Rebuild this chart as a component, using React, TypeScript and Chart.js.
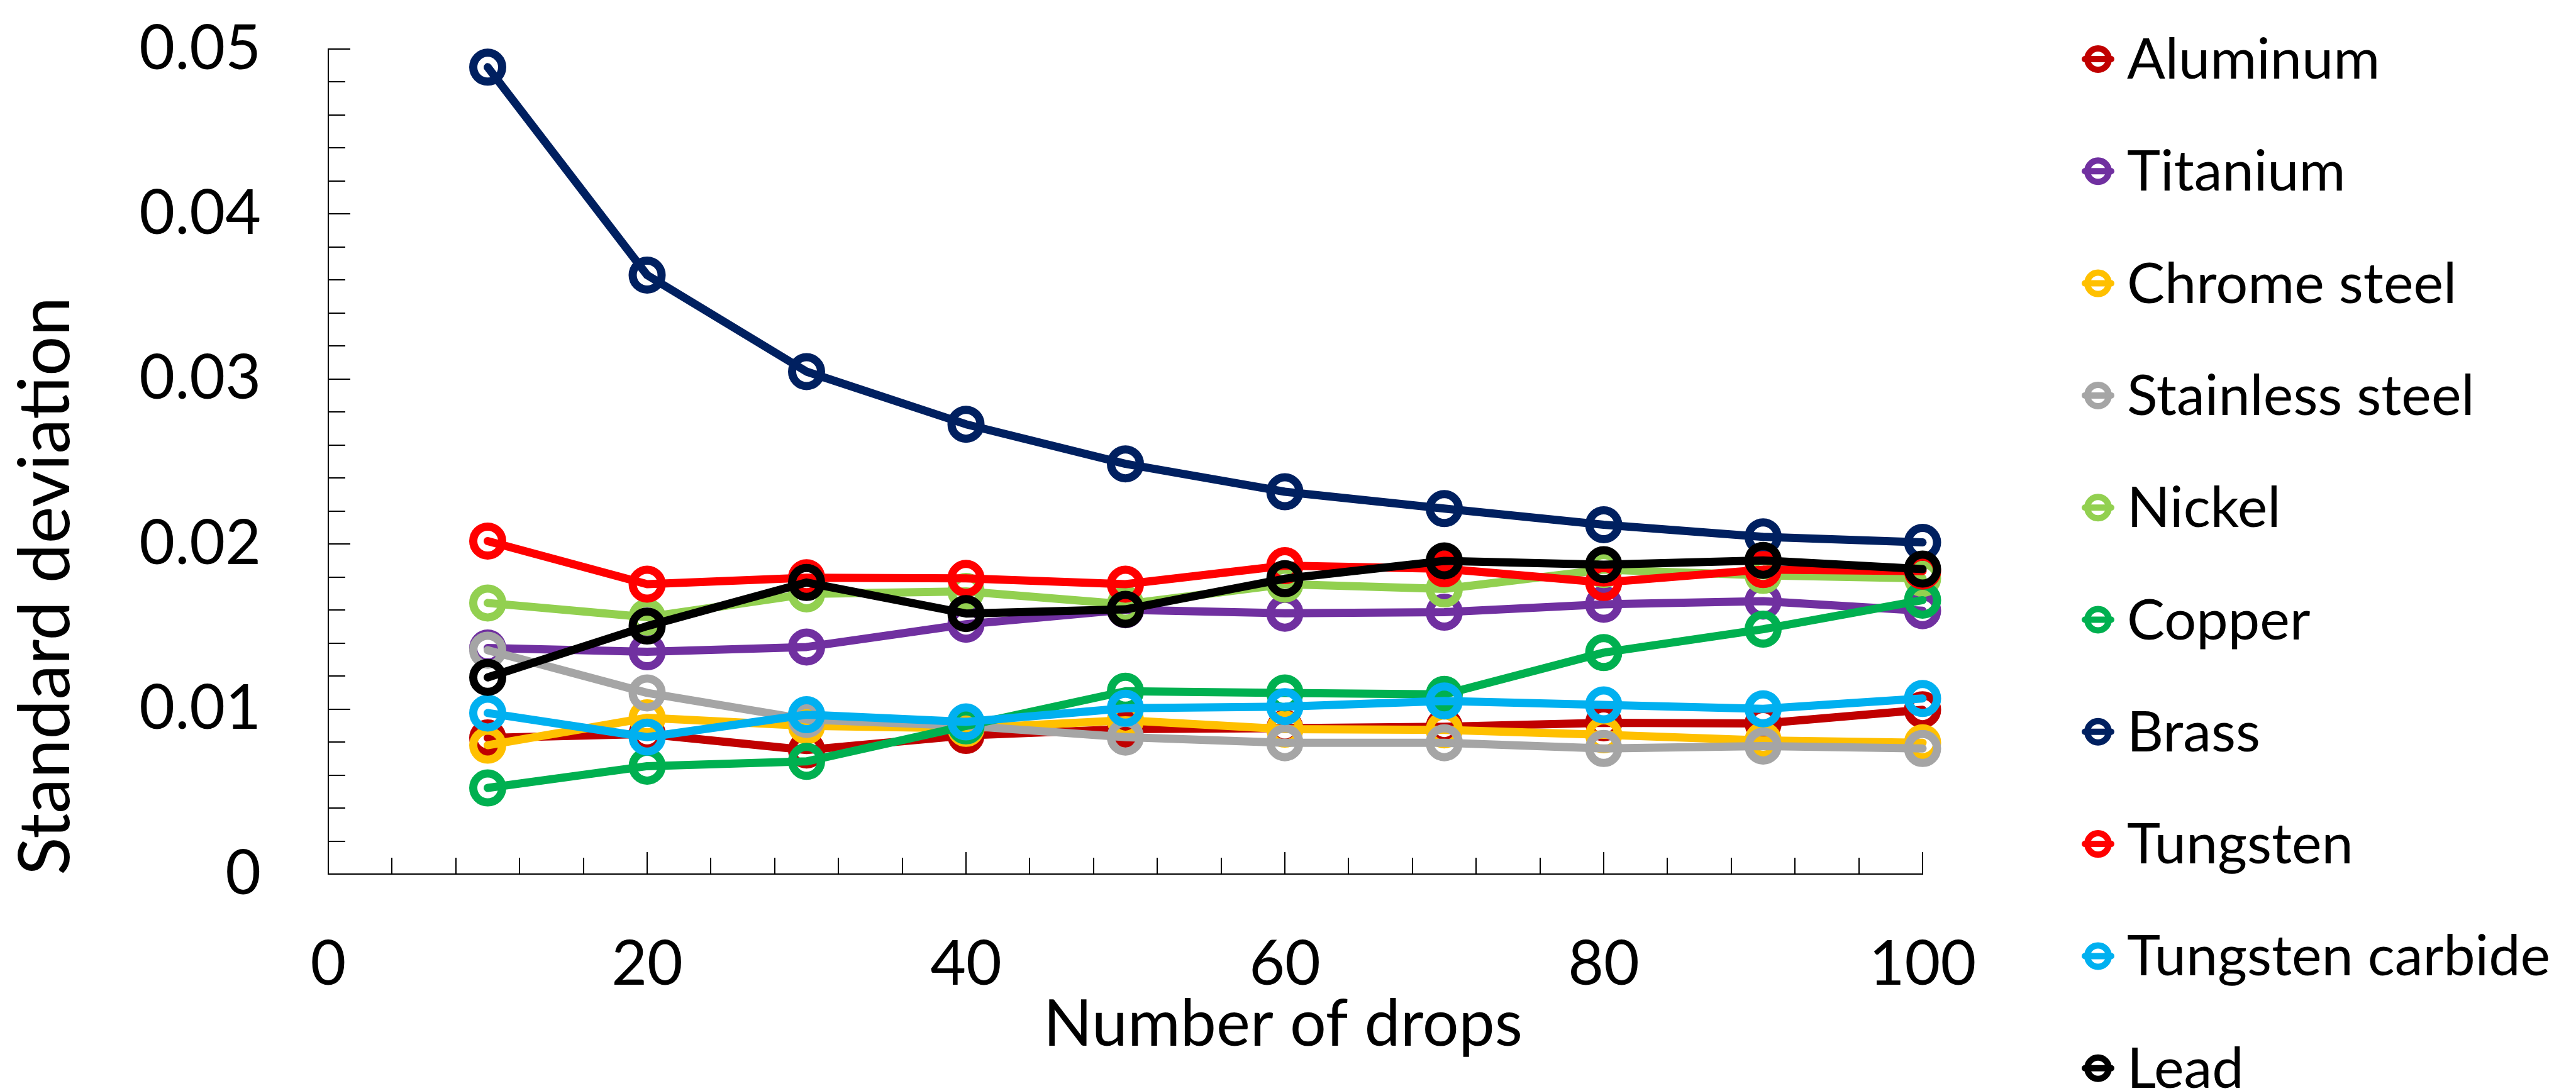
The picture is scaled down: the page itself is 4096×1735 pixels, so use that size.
import React, { useEffect, useRef } from 'react';
import { Chart, registerables } from 'chart.js';

Chart.register(...registerables);

// ---------- data ----------
const drops = [10, 20, 30, 40, 50, 60, 70, 80, 90, 100];

const seriesNames = [
  'Aluminum',
  'Titanium',
  'Chrome steel',
  'Stainless steel',
  'Nickel',
  'Copper',
  'Brass',
  'Tungsten',
  'Tungsten carbide',
  'Lead',
];

const seriesColors = [
  '#C00000',
  '#7030A0',
  '#FFC000',
  '#A5A5A5',
  '#92D050',
  '#00B050',
  '#002060',
  '#FF0000',
  '#00B0F0',
  '#000000',
];

const aluminum = [0.00825, 0.00849, 0.00752, 0.0084, 0.00878, 0.00884, 0.00893, 0.00917, 0.00913, 0.00996];
const titanium = [0.0137, 0.01347, 0.01376, 0.01514, 0.01602, 0.01581, 0.01587, 0.01635, 0.01654, 0.01596];
const chromeSteel = [0.00781, 0.00947, 0.00898, 0.00883, 0.00932, 0.00878, 0.00874, 0.00844, 0.0081, 0.00796];
const stainlessSteel = [0.01357, 0.01098, 0.00937, 0.00898, 0.0083, 0.00796, 0.00796, 0.00761, 0.00776, 0.00761];
const nickel = [0.01643, 0.01557, 0.01698, 0.01713, 0.01635, 0.01757, 0.01728, 0.01845, 0.0181, 0.01792];
const copper = [0.00522, 0.00654, 0.00683, 0.00898, 0.01108, 0.01098, 0.01089, 0.01342, 0.01484, 0.0166];
const brass = [0.0489, 0.0363, 0.03045, 0.02726, 0.02486, 0.02317, 0.02215, 0.02117, 0.02044, 0.0201];
const tungsten = [0.02018, 0.01757, 0.01796, 0.01792, 0.01757, 0.01869, 0.0185, 0.01767, 0.01845, 0.01836];
const tungstenCarbide = [0.00976, 0.0083, 0.00966, 0.00922, 0.01005, 0.01015, 0.01049, 0.01025, 0.01001, 0.01064];
const lead = [0.01192, 0.01503, 0.01767, 0.01579, 0.01604, 0.0179, 0.01898, 0.01875, 0.01901, 0.01848];

const seriesValues = [
  aluminum,
  titanium,
  chromeSteel,
  stainlessSteel,
  nickel,
  copper,
  brass,
  tungsten,
  tungstenCarbide,
  lead,
];

const xTickValues = [0, 20, 40, 60, 80, 100];
const xTickLabels = ['0', '20', '40', '60', '80', '100'];
const yTickValues = [0, 0.01, 0.02, 0.03, 0.04, 0.05];
const yTickLabels = ['0', '0.01', '0.02', '0.03', '0.04', '0.05'];

const xTitle = 'Number of drops';
const yTitle = 'Standard deviation';

// ---------- layout / style ----------
const W = 4096;
const H = 1735;
const FONT = 'Lato';
const AREA = { left: 522, right: 3057, top: 78, bottom: 1390 };

const decorPlugin = {
  id: 'decor',
  beforeDatasetsDraw(chart: any) {
    const { ctx, scales } = chart;
    const x = scales.x;
    const y = scales.y;
    ctx.save();
    ctx.strokeStyle = '#000';
    ctx.lineWidth = 2;
    // y-axis ticks (inward), minor every 0.002
    for (let i = 0; i <= 25; i++) {
      const v = i * 0.002;
      const major = i % 5 === 0;
      const py = Math.round(y.getPixelForValue(v));
      const len = major ? 35 : 27;
      ctx.beginPath();
      ctx.moveTo(x.left, py);
      ctx.lineTo(x.left + len, py);
      ctx.stroke();
    }
    // x-axis ticks (inward), minor every 4
    for (let i = 0; i <= 25; i++) {
      const v = i * 4;
      const major = i % 5 === 0;
      const px = Math.round(x.getPixelForValue(v));
      const len = major ? 35 : 26;
      ctx.beginPath();
      ctx.moveTo(px, y.bottom);
      ctx.lineTo(px, y.bottom - len);
      ctx.stroke();
    }
    ctx.restore();
  },
  afterDraw(chart: any) {
    const { ctx } = chart;
    ctx.save();
    ctx.fillStyle = '#000';

    // axis titles
    ctx.font = `102px ${FONT}`;
    ctx.textAlign = 'center';
    ctx.textBaseline = 'alphabetic';
    ctx.fillText(xTitle, 2040, 1663);

    ctx.save();
    ctx.translate(110, 932);
    ctx.rotate(-Math.PI / 2);
    ctx.font = `112px ${FONT}`;
    ctx.fillText(yTitle, 0, 0);
    ctx.restore();

    // legend
    const mx = 3336;
    const tx = 3382;
    const y0 = 94;
    const dy = 178.3;
    ctx.font = `90px ${FONT}`;
    ctx.textAlign = 'left';
    seriesNames.forEach((name, i) => {
      const cy = y0 + i * dy;
      const col = seriesColors[i];
      ctx.strokeStyle = col;
      ctx.lineWidth = 10;
      ctx.beginPath();
      ctx.arc(mx, cy, 17, 0, Math.PI * 2);
      ctx.stroke();
      ctx.lineCap = 'round';
      ctx.beginPath();
      ctx.moveTo(mx - 21, cy);
      ctx.lineTo(mx + 21, cy);
      ctx.stroke();
      ctx.fillStyle = '#000';
      ctx.fillText(name, tx, cy + 31);
    });
    ctx.restore();
  },
};

export default function App() {
  const ref = useRef<HTMLCanvasElement>(null);

  useEffect(() => {
    document.body.style.margin = '0';
    document.body.style.overflow = 'hidden';
    const canvas = ref.current;
    if (!canvas) return;

    const datasets = seriesNames.map((name, i) => ({
      label: name,
      data: drops.map((d, j) => ({ x: d, y: seriesValues[i][j] })),
      borderColor: seriesColors[i],
      backgroundColor: seriesColors[i],
      borderWidth: 13,
      borderCapStyle: 'round' as const,
      borderJoinStyle: 'round' as const,
      tension: 0,
      fill: false,
      pointStyle: 'circle' as const,
      pointRadius: 23,
      pointBorderWidth: 13,
      pointBorderColor: seriesColors[i],
      pointBackgroundColor: 'rgba(0,0,0,0)',
      order: -i,
      clip: false as const,
    }));

    const chart = new Chart(canvas, {
      type: 'line',
      data: { datasets },
      plugins: [decorPlugin],
      options: {
        animation: false,
        responsive: false,
        devicePixelRatio: 1,
        events: [],
        layout: {
          padding: { left: 0, top: AREA.top, right: W - AREA.right, bottom: 0 },
        },
        plugins: {
          legend: { display: false },
          tooltip: { enabled: false },
          title: { display: false },
        },
        scales: {
          x: {
            type: 'linear',
            min: 0,
            max: 100,
            afterBuildTicks: (scale: any) => {
              scale.ticks = xTickValues.map((v) => ({ value: v }));
            },
            afterFit: (scale: any) => {
              scale.height = H - AREA.bottom;
              scale.paddingLeft = 0;
              scale.paddingRight = 0;
            },
            grid: { display: false, drawTicks: false },
            border: { display: true, color: '#000', width: 2 },
            ticks: {
              autoSkip: false,
              maxRotation: 0,
              padding: 86,
              color: '#000',
              font: { family: FONT, size: 98 },
              callback: (_v: any, idx: number) => xTickLabels[idx],
            },
          },
          y: {
            type: 'linear',
            min: 0,
            max: 0.05,
            afterBuildTicks: (scale: any) => {
              scale.ticks = yTickValues.map((v) => ({ value: v }));
            },
            afterFit: (scale: any) => {
              scale.width = AREA.left;
              scale.paddingTop = 0;
              scale.paddingBottom = 0;
            },
            grid: { display: false, drawTicks: false },
            border: { display: true, color: '#000', width: 2 },
            ticks: {
              autoSkip: false,
              padding: 107,
              color: '#000',
              font: { family: FONT, size: 98 },
              callback: (_v: any, idx: number) => yTickLabels[idx],
            },
          },
        },
      },
    });

    return () => chart.destroy();
  }, []);

  return (
    <canvas
      ref={ref}
      width={W}
      height={H}
      style={{ display: 'block', width: `${W}px`, height: `${H}px` }}
    />
  );
}
